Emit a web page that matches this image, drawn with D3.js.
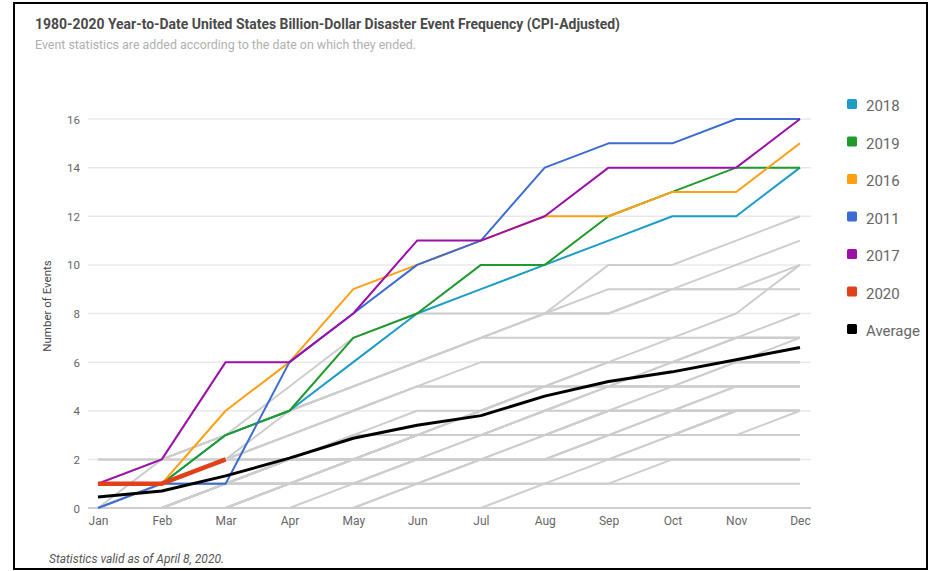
<!DOCTYPE html>
<html>
<head>
<meta charset="utf-8">
<script src="https://cdn.jsdelivr.net/npm/d3@7/dist/d3.min.js"></script>
<style>
  html, body { margin: 0; padding: 0; background: #fff; }
  svg { display: block; font-family: Roboto, "Noto Sans", sans-serif; }
</style>
</head>
<body>
<svg id="chart" width="930" height="571"></svg>
<script>
// Months on the x axis
const months = ["Jan","Feb","Mar","Apr","May","Jun","Jul","Aug","Sep","Oct","Nov","Dec"];
const yTicks = [0, 2, 4, 6, 8, 10, 12, 14, 16];

// Highlighted years: cumulative event counts by month
const s2018 = [1, 1, 3, 4, 6, 8, 9, 10, 11, 12, 12, 14];
const s2019 = [1, 1, 3, 4, 7, 8, 10, 10, 12, 13, 14, 14];
const s2016 = [1, 1, 4, 6, 9, 10, 11, 12, 12, 13, 13, 15];
const s2011 = [0, 1, 1, 6, 8, 10, 11, 14, 15, 15, 16, 16];
const s2017 = [1, 2, 6, 6, 8, 11, 11, 12, 14, 14, 14, 16];
const s2020 = [1, 1, 2];
const average = [0.45, 0.7, 1.32, 2.05, 2.87, 3.4, 3.8, 4.6, 5.2, 5.6, 6.1, 6.6];

// Every other year since 1980, drawn in grey
const otherYears = [
  [0,0,0,0,0,1,2,2,3,3,3,3],
  [0,0,1,1,1,1,1,1,2,2,2,2],
  [0,0,0,1,2,2,2,2,2,3,3,3],
  [0,1,1,2,2,3,3,4,5,5,5,5],
  [0,0,0,0,1,1,1,1,1,2,2,2],
  [0,0,1,2,2,3,3,3,4,5,6,6],
  [0,0,0,1,1,2,2,2,3,3,3,3],
  [0,0,0,0,0,0,0,1,1,1,1,1],
  [0,0,0,0,0,1,2,2,2,2,2,2],
  [0,0,1,1,2,2,2,2,3,4,4,4],
  [0,0,0,1,2,3,3,3,3,3,4,4],
  [0,1,1,1,1,1,2,2,2,3,4,4],
  [0,0,1,1,2,3,4,5,6,6,7,7],
  [0,0,1,2,2,3,4,5,5,5,5,5],
  [0,1,2,2,2,2,2,3,3,3,4,4],
  [0,1,1,2,3,3,3,3,4,4,5,5],
  [1,1,1,1,1,2,2,3,4,4,4,4],
  [0,0,1,2,2,3,3,3,3,3,3,4],
  [1,2,3,4,5,6,7,8,9,9,9,9],
  [0,0,1,1,2,3,3,3,4,4,5,5],
  [0,0,0,1,1,2,3,3,3,4,4,4],
  [0,0,1,1,1,2,2,2,3,3,3,3],
  [0,0,0,1,2,2,3,4,5,5,5,5],
  [1,1,2,3,4,5,5,5,6,6,7,7],
  [0,0,1,1,2,3,3,4,5,5,6,6],
  [0,1,1,2,2,3,4,5,5,6,6,6],
  [0,0,1,2,3,4,4,5,6,6,6,7],
  [0,1,2,2,3,3,3,4,4,4,4,4],
  [1,2,3,5,7,8,8,8,10,10,11,12],
  [0,1,2,3,4,5,5,5,5,6,7,7],
  [2,2,2,2,2,3,3,3,3,3,4,4],
  [0,1,2,4,5,6,7,8,8,9,10,11],
  [0,2,3,4,5,6,7,7,7,7,8,10],
  [1,2,2,3,4,5,6,6,6,7,7,8],
  [2,2,3,4,5,6,7,8,8,9,9,10]
];

const legendNames = ["2018", "2019", "2016", "2011", "2017", "2020", "Average"];
const legendColors = ["#1b9dc7", "#1f9a2c", "#ff9f12", "#3c6cd2", "#9a10a8", "#e0411b", "#000000"];

const svg = d3.select("#chart");

// Frame
svg.append("rect")
  .attr("x", 14).attr("y", 3).attr("width", 913).attr("height", 566)
  .attr("fill", "none").attr("stroke", "#000").attr("stroke-width", 2);

// Titles
svg.append("text")
  .attr("x", 35).attr("y", 29)
  .attr("font-size", 15).attr("font-weight", 700).attr("fill", "#4a4a4a")
  .attr("textLength", 585).attr("lengthAdjust", "spacingAndGlyphs")
  .text("1980-2020 Year-to-Date United States Billion-Dollar Disaster Event Frequency (CPI-Adjusted)");
svg.append("text")
  .attr("x", 35).attr("y", 49)
  .attr("font-size", 12).attr("fill", "#b0b0b0")
  .attr("textLength", 381).attr("lengthAdjust", "spacingAndGlyphs")
  .text("Event statistics are added according to the date on which they ended.");

// Scales
const x = d3.scalePoint().domain(months).range([98, 800]);
const y = d3.scaleLinear().domain([0, 16]).range([508, 119]);

// Gridlines
const grid = svg.append("g");
grid.selectAll("line").data(yTicks).join("line")
  .attr("x1", 88).attr("x2", 811)
  .attr("y1", d => y(d)).attr("y2", d => y(d))
  .attr("stroke", d => d === 0 ? "#cfcfcf" : "#e8e8e8")
  .attr("stroke-width", d => d === 0 ? 2 : 1.5);

// Y axis tick labels
const yAxis = d3.axisLeft(y).tickValues(yTicks).tickSize(0).tickPadding(0);
svg.append("g")
  .attr("transform", "translate(80,0)")
  .call(yAxis)
  .call(g => g.select(".domain").remove())
  .call(g => g.selectAll("text")
    .attr("font-size", 11.5).attr("fill", "#666")
    .attr("font-family", "Roboto, sans-serif").attr("dy", "0.35em"));

// X axis tick labels
const xAxis = d3.axisBottom(x).tickSize(0).tickPadding(0);
svg.append("g")
  .attr("transform", "translate(0,516)")
  .call(xAxis)
  .call(g => g.select(".domain").remove())
  .call(g => g.selectAll("text")
    .attr("font-size", 12).attr("fill", "#666")
    .attr("font-family", "Roboto, sans-serif").attr("dy", "0.71em"));

// Y axis title
svg.append("text")
  .attr("transform", "translate(51,306) rotate(-90)")
  .attr("text-anchor", "middle")
  .attr("font-size", 11.5).attr("fill", "#444")
  .text("Number of Events");

const line = d3.line()
  .x((d, i) => x(months[i]))
  .y(d => y(d));

// Grey years
svg.append("g").selectAll("path").data(otherYears).join("path")
  .attr("d", line)
  .attr("fill", "none")
  .attr("stroke", "#cdcdcd")
  .attr("stroke-width", 2)
  .attr("stroke-linejoin", "round");

// Highlighted years
const highlighted = [
  { values: s2018, color: legendColors[0], width: 2 },
  { values: s2019, color: legendColors[1], width: 2 },
  { values: s2016, color: legendColors[2], width: 2 },
  { values: s2011, color: legendColors[3], width: 2 },
  { values: s2017, color: legendColors[4], width: 2 },
  { values: average, color: legendColors[6], width: 3 },
  { values: s2020, color: legendColors[5], width: 4.5 }
];
svg.append("g").selectAll("path").data(highlighted).join("path")
  .attr("d", d => line(d.values))
  .attr("fill", "none")
  .attr("stroke", d => d.color)
  .attr("stroke-width", d => d.width)
  .attr("stroke-linejoin", "round");

// Legend
const legend = svg.append("g").selectAll("g").data(legendNames).join("g")
  .attr("transform", (d, i) => `translate(847,${105 + i * 37.5})`);
legend.append("rect")
  .attr("x", 0).attr("y", -6).attr("width", 10).attr("height", 10).attr("rx", 1.5)
  .attr("fill", (d, i) => legendColors[i]);
legend.append("text")
  .attr("x", 19).attr("y", 1).attr("dy", "0.35em")
  .attr("font-size", 15).attr("fill", "#666")
  .text(d => d);

// Footnote
svg.append("text")
  .attr("x", 49).attr("y", 563)
  .attr("font-size", 12).attr("font-style", "italic").attr("fill", "#555")
  .text("Statistics valid as of April 8, 2020.");
</script>
</body>
</html>
